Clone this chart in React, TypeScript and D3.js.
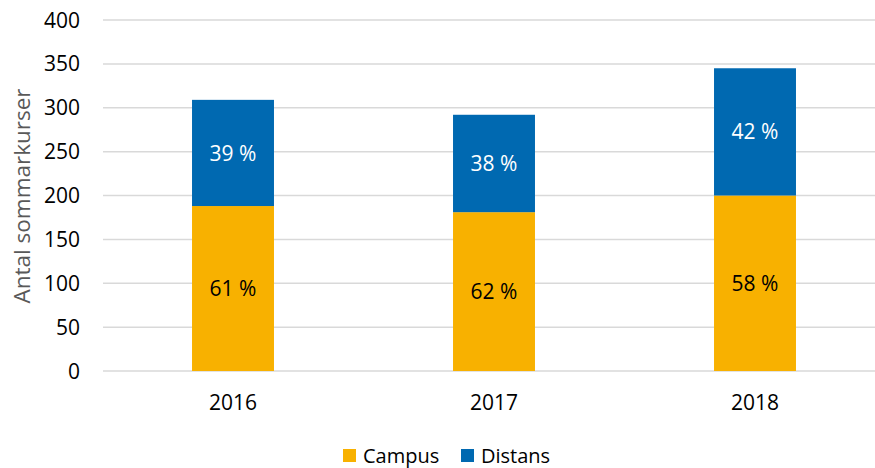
import { useEffect, useRef } from "react";
import * as d3 from "d3";

// values (number of summer courses)
const years = ["2016", "2017", "2018"];
const campus = [188, 181, 200];
const distans = [121, 111, 145];
const yTicks = [0, 50, 100, 150, 200, 250, 300, 350, 400];
const seriesNames = ["Campus", "Distans"];
const seriesColors = ["#F8B100", "#0069B1"];

const W = 875;
const H = 468;
const FONT = "'Open Sans', 'Noto Sans', sans-serif";

export default function App() {
    const ref = useRef<SVGSVGElement | null>(null);

    useEffect(() => {
        const svg = d3.select(ref.current);
        svg.selectAll("*").remove();

        // plot area bounds
        const x = d3.scaleBand<string>()
            .domain(years)
            .range([102.5, 885.5])
            .paddingInner(0.686)
            .paddingOuter(0.343);
        const y = d3.scaleLinear().domain([0, 400]).range([371, 20]);

        // gridlines
        svg.append("g")
            .selectAll("line")
            .data(yTicks)
            .enter()
            .append("line")
            .attr("x1", 103)
            .attr("x2", W)
            .attr("y1", d => y(d))
            .attr("y2", d => y(d))
            .attr("stroke", "#D9D9D9")
            .attr("stroke-width", 1.5);

        // y tick labels
        svg.append("g")
            .selectAll("text")
            .data(yTicks)
            .enter()
            .append("text")
            .attr("x", 80)
            .attr("y", d => y(d))
            .attr("dy", "0.36em")
            .attr("text-anchor", "end")
            .attr("font-family", FONT)
            .attr("font-size", 21)
            .attr("fill", "#000")
            .text(d => d);

        // y axis title
        svg.append("text")
            .attr("transform", `translate(30 196) rotate(-90)`)
            .attr("text-anchor", "middle")
            .attr("font-family", FONT)
            .attr("font-size", 22.5)
            .attr("fill", "#595959")
            .text("Antal sommarkurser");

        // stacked bars
        const rows = years.map((yr, i) => ({ year: yr, Campus: campus[i], Distans: distans[i] }));
        const stacked = d3.stack<any>().keys(seriesNames)(rows);
        stacked.forEach((layer, k) => {
            const g = svg.append("g");
            g.selectAll("rect")
                .data(layer)
                .enter()
                .append("rect")
                .attr("x", d => x(d.data.year) as number)
                .attr("width", x.bandwidth())
                .attr("y", d => y(d[1]))
                .attr("height", d => y(d[0]) - y(d[1]))
                .attr("fill", seriesColors[k]);
            g.selectAll("text")
                .data(layer)
                .enter()
                .append("text")
                .attr("x", d => (x(d.data.year) as number) + x.bandwidth() / 2)
                .attr("y", d => (y(d[0]) + y(d[1])) / 2)
                .attr("dy", "0.36em")
                .attr("text-anchor", "middle")
                .attr("font-family", FONT)
                .attr("font-size", 21)
                .attr("fill", k === 0 ? "#000" : "#fff")
                .text(d => {
                    const total = d.data.Campus + d.data.Distans;
                    return `${Math.round(((d[1] - d[0]) / total) * 100)} %`;
                });
        });

        // x labels
        svg.append("g")
            .selectAll("text")
            .data(years)
            .enter()
            .append("text")
            .attr("x", d => (x(d) as number) + x.bandwidth() / 2)
            .attr("y", 410)
            .attr("text-anchor", "middle")
            .attr("font-family", FONT)
            .attr("font-size", 21)
            .attr("fill", "#000")
            .text(d => d);

        // legend
        const legendX = [343, 461];
        const lg = svg.append("g");
        seriesNames.forEach((name, i) => {
            lg.append("rect")
                .attr("x", legendX[i])
                .attr("y", 449)
                .attr("width", 13)
                .attr("height", 13)
                .attr("fill", seriesColors[i]);
            lg.append("text")
                .attr("x", legendX[i] + 20)
                .attr("y", 463)
                .attr("font-family", FONT)
                .attr("font-size", 20)
                .attr("fill", "#000")
                .text(name);
        });
    }, []);

    return (
        <svg
            ref={ref}
            width={W}
            height={H}
            style={{ position: "fixed", left: 0, top: 0, background: "#fff", display: "block" }}
        />
    );
}
